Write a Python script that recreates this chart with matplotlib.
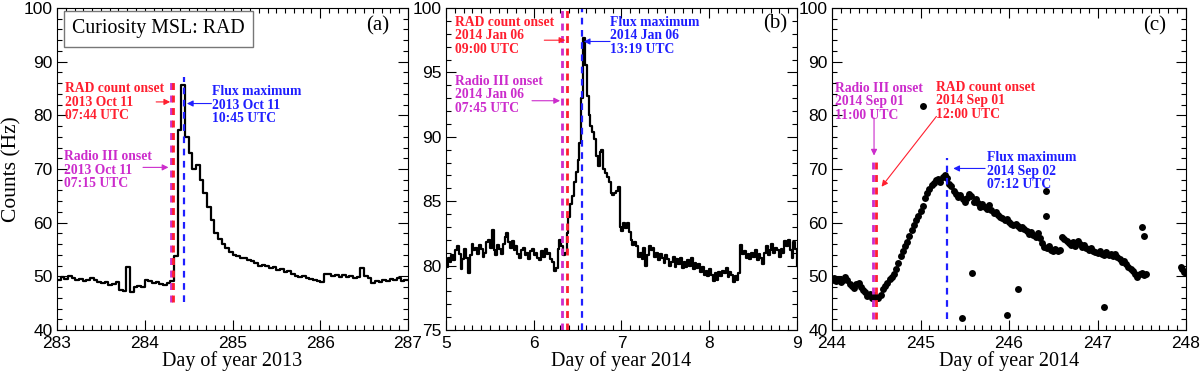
import numpy as np
import matplotlib
matplotlib.use('Agg')
import matplotlib.pyplot as plt
from matplotlib.ticker import MultipleLocator

# ---- panel (a): 2013 Oct 11, hourly RAD counts from day 283.0
counts_a = [
    49.4, 49.8, 49.5, 50.0, 49.6, 49.3, 49.5, 49.1, 49.3, 49.6, 49.3, 49.0,
    48.7, 49.0, 48.3, 48.6, 48.9, 47.5, 47.2, 51.8, 47.0, 48.0, 48.2, 48.0,
    49.4, 49.1, 48.8, 49.0, 48.6, 48.4, 48.7, 49.1, 53.8, 77.2, 85.6, 76.0,
    73.0, 70.0, 70.8, 68.0, 65.5, 63.0, 60.5, 58.0, 57.0, 56.0, 55.2, 54.6,
    54.0, 53.8, 53.4, 53.5, 53.0, 52.8, 52.5, 52.0, 52.2, 51.9, 51.6, 51.8,
    51.2, 51.3, 50.9, 51.0, 50.4, 50.0, 49.9, 50.1, 49.7, 49.5, 49.3, 49.1,
    49.0, 50.4, 50.5, 50.1, 50.3, 49.9, 50.2, 49.8, 50.0, 49.6, 49.8, 51.6,
    50.0, 49.7, 48.7, 49.2, 49.0, 49.4, 49.1, 49.5, 49.3, 49.6, 49.2, 49.4,
    49.3]
day0_a = 283.0

# ---- panel (b): 2014 Jan 06, half-hourly RAD counts from day 5.0
counts_b = [
    79.9, 80.6, 80.3, 80.8, 80.4, 81.2, 81.5, 80.9, 79.7, 80.5, 81.3, 80.6,
    79.4, 80.8, 81.7, 81.2, 81.4, 80.9, 81.6, 81.3, 80.7, 81.0, 81.8, 82.0,
    81.4, 82.8, 81.2, 80.8, 81.6, 81.3, 80.9, 81.7, 82.2, 82.5, 81.8, 81.4,
    81.9, 81.2, 81.5, 80.9, 80.6, 81.2, 81.4, 80.8, 81.0, 80.5, 81.1, 81.3,
    80.8, 81.0, 80.6, 80.4, 81.1, 80.7, 81.3, 80.9, 81.0, 80.5, 80.3, 79.6,
    79.8, 81.3, 82.0, 81.5, 80.8, 81.0, 82.5, 83.8, 84.8, 85.4, 86.5, 87.3,
    88.2, 89.5, 93.0, 97.7, 95.6, 93.2, 91.7, 90.8, 90.4, 89.8, 88.5, 87.7,
    88.8, 89.0, 87.5, 87.2, 86.9, 86.5, 85.6, 85.5, 85.6, 85.8, 86.1, 83.0,
    82.7, 83.3, 82.9, 83.3, 82.6, 82.0, 81.6, 81.8, 81.5, 80.7, 81.0, 80.5,
    81.4, 80.0, 80.8, 81.5, 81.2, 81.4, 80.7, 81.0, 80.4, 80.9, 80.6, 80.2,
    80.8, 80.5, 80.0, 80.3, 80.7, 79.9, 80.5, 80.1, 80.6, 79.8, 80.3, 79.9,
    80.4, 80.0, 80.6, 79.7, 80.2, 79.8, 80.1, 79.5, 79.9, 79.3, 79.6, 79.2,
    79.7, 79.3, 78.8, 79.4, 78.9, 79.5, 79.2, 79.6, 79.4, 79.8, 79.1, 79.5,
    79.3, 78.7, 79.2, 78.9, 79.4, 81.6, 80.9, 81.1, 80.6, 80.9, 80.5, 81.0,
    80.7, 81.2, 80.4, 80.9, 80.6, 80.1, 81.0, 81.5, 80.8, 81.2, 81.7, 81.0,
    81.4, 81.2, 80.7, 81.3, 81.0, 81.9, 81.5, 82.0, 81.2, 80.6, 81.8, 81.3,
    80.0]
day0_b = 5.0

# ---- panel (c): 2014 Sep 01-02, RAD counts every 0.025 day from 244.0
counts_c = [
    49.3, 49.6, 49.2, 49.5, 49.0, 49.4, 49.8, 49.3, 48.6, 48.2, 47.9, 48.5,
    48.7, 48.1, 47.4, 47.0, 46.3, 46.8, 46.0, 46.6, 46.2, 45.9, 46.5, 47.6,
    48.2, 48.8, 49.5, 49.9, 50.5, 51.3, 52.4, 53.8, 54.8, 55.6, 56.4, 57.5,
    58.6, 59.5, 60.5, 61.2, 62.2, 63.1, 64.6, 65.6, 66.3, 67.0, 67.4, 67.9,
    68.1, 67.6, 68.5, 68.9, 68.3, 67.2, 66.8, 65.9, 65.4, 64.8, 65.2, 64.5,
    63.8, 64.6, 65.3, 64.9, 63.9, 64.4, 63.6, 63.0, 63.5, 62.9, 62.6, 63.2,
    62.3, 61.8, 62.0, 61.4, 61.1, 60.8, 60.5, 60.7, 60.1, 59.8, 59.5, 59.7,
    59.3, 59.0, 59.2, 58.8, 58.4, 57.9, 58.3, 57.7, 57.4, 58.0, 57.1, 56.2,
    55.5, 55.2, 55.6, 55.0, 54.8, 55.1, 54.7, 55.0, 57.3, 56.9, 56.5, 56.2,
    55.9, 56.4, 55.7, 56.5, 56.1, 55.4, 55.8, 55.2, 55.0, 55.3, 54.8, 54.6,
    54.3, 54.7, 54.2, 54.0, 54.5, 53.9, 54.2, 53.8, 54.1, 53.6, 53.2, 52.6,
    52.9, 52.3, 51.7, 51.4, 51.0, 50.4, 49.9, 50.5, 50.7, 50.2, 50.4]
day0_c = 244.0
step_c = 0.025
# late points after the data gap, and isolated outliers
extra_day_c = [247.94, 247.96, 247.98, 248.0,
               245.03, 245.58, 245.47, 245.98, 246.10, 246.42, 246.42,
               247.07, 247.50, 247.52]
extra_cnt_c = [51.7, 51.3, 50.9, 50.6,
               81.8, 50.7, 42.2, 42.8, 47.6, 65.9, 61.3,
               44.2, 59.1, 57.6]

# event times (day of year) : radio III onset, RAD onset, flux maximum
events_a = [284.302, 284.322, 284.448]
events_b = [6.323, 6.375, 6.555]
events_c = [244.458, 244.500, 245.300]

MAG = '#cc2ccc'
RED = '#ff1f2f'
BLUE = '#1f1fff'
serif = 'Liberation Serif'
sans = 'Liberation Sans'

fig = plt.figure(figsize=(12, 3.72), dpi=100)
W, H = 1200., 372.
def box(l, r):
    return [l / W, 1 - 330 / H, (r - l) / W, 322 / H]

ax_a = fig.add_axes(box(57, 408))
ax_b = fig.add_axes(box(446, 797))
ax_c = fig.add_axes(box(832, 1186))

def style(ax, xlim, ylim, ymaj, ymin, xlabel):
    ax.set_xlim(*xlim)
    ax.set_ylim(*ylim)
    ax.xaxis.set_major_locator(MultipleLocator(1))
    ax.xaxis.set_minor_locator(MultipleLocator(0.1))
    ax.yaxis.set_major_locator(MultipleLocator(ymaj))
    ax.yaxis.set_minor_locator(MultipleLocator(ymin))
    ax.tick_params(which='both', direction='in', top=True, right=True,
                   width=0.8)
    ax.tick_params(which='major', length=7, labelsize=12.5, pad=3)
    ax.tick_params(which='minor', length=3.5)
    ax.tick_params(axis='x', which='major', pad=4.5)
    for lab in ax.get_xticklabels() + ax.get_yticklabels():
        lab.set_family(sans)
    ax.set_xlabel(xlabel, family=serif, fontsize=14.5)
    ax.xaxis.set_label_coords(0.5, -0.066)

def evlines(ax, ev, y0, y1):
    ax.plot([ev[0], ev[0]], [y0, y1], ls=(0, (2.5, 2)), color=MAG, lw=2)
    ax.plot([ev[1], ev[1]], [y0, y1], ls=(0, (2.5, 2)), color=RED, lw=2)
    ax.plot([ev[2], ev[2]], [y0, y1], ls=(0, (3, 2.5)), color=BLUE, lw=1.6)

def note(ax, txt, xytext, color):
    ax.text(xytext[0], xytext[1], txt, color=color, family=serif,
            fontsize=9.8, fontweight='bold', ha='left', va='top',
            linespacing=1.05)

def arrow(ax, start, end, color):
    ax.annotate('', xy=end, xytext=start,
                arrowprops=dict(arrowstyle='-|>', color=color, lw=0.8,
                                mutation_scale=9, shrinkA=0, shrinkB=0))

# ---------- (a)
t_a = day0_a + np.arange(len(counts_a)) / 24.
ax_a.plot(t_a, counts_a, drawstyle='steps-post', color='k', lw=1.6)
evlines(ax_a, events_a, 45.2, 87.2)
style(ax_a, (283, 287), (40, 100), 10, 2, 'Day of year 2013')
ax_a.set_ylabel('Counts (Hz)', family=serif, fontsize=15.5)
ax_a.yaxis.set_label_coords(-0.1, 0.5)
ax_a.text(283.17, 96.1, 'Curiosity MSL: RAD', family=serif, fontsize=14.3,
          va='center', ha='left',
          bbox=dict(boxstyle='square,pad=0.42', fc='white', ec='#777777', lw=1))
ax_a.text(286.65, 96.7, '(a)', family=serif, fontsize=15, ha='center', va='center')
note(ax_a, 'RAD count onset\n2013 Oct 11\n07:44 UTC', (283.09, 86.2), RED)
note(ax_a, 'Radio III onset\n2013 Oct 11\n07:15 UTC', (283.08, 73.5), MAG)
note(ax_a, 'Flux maximum\n2013 Oct 11\n10:45 UTC', (284.77, 85.6), BLUE)
arrow(ax_a, (284.13, 82.5), (284.29, 82.5), RED)
arrow(ax_a, (283.98, 70.3), (284.27, 70.3), MAG)
arrow(ax_a, (284.76, 82.2), (284.48, 82.2), BLUE)

# ---------- (b)
t_b = day0_b + np.arange(len(counts_b)) / 48.
ax_b.plot(t_b, counts_b, drawstyle='steps-post', color='k', lw=1.6)
evlines(ax_b, events_b, 75, 100.6)
style(ax_b, (5, 9), (75, 100), 5, 1, 'Day of year 2014')
ax_b.text(8.75, 98.8, '(b)', family=serif, fontsize=15, ha='center', va='center')
note(ax_b, 'RAD count onset\n2014 Jan 06\n09:00 UTC', (5.1, 99.4), RED)
note(ax_b, 'Radio III onset\n2014 Jan 06\n07:45 UTC', (5.1, 94.8), MAG)
note(ax_b, 'Flux maximum\n2014 Jan 06\n13:19 UTC', (6.87, 99.4), BLUE)
arrow(ax_b, (6.12, 97.5), (6.36, 97.5), RED)
arrow(ax_b, (5.98, 92.8), (6.30, 92.8), MAG)
arrow(ax_b, (6.87, 97.4), (6.57, 97.4), BLUE)

# ---------- (c)
t_c = day0_c + step_c * np.arange(len(counts_c))
ax_c.plot(t_c, counts_c, 'o', color='k', ms=5, mew=0)
ax_c.plot(extra_day_c, extra_cnt_c, 'o', color='k', ms=5, mew=0)
evlines(ax_c, events_c, 42, 72)
style(ax_c, (244, 248), (40, 100), 10, 2, 'Day of year 2014')
ax_c.text(247.65, 96.7, '(c)', family=serif, fontsize=15, ha='center', va='center')
note(ax_c, 'Radio III onset\n2014 Sep 01\n11:00 UTC', (244.03, 86.3), MAG)
note(ax_c, 'RAD count onset\n2014 Sep 01\n12:00 UTC', (245.18, 86.4), RED)
note(ax_c, 'Flux maximum\n2014 Sep 02\n07:12 UTC', (245.75, 73.3), BLUE)
arrow(ax_c, (244.475, 79.5), (244.475, 72.5), MAG)
arrow(ax_c, (245.18, 79.8), (244.56, 66.7), RED)
arrow(ax_c, (245.73, 70.1), (245.37, 70.1), BLUE)

fig.savefig('out.png', dpi=100)
